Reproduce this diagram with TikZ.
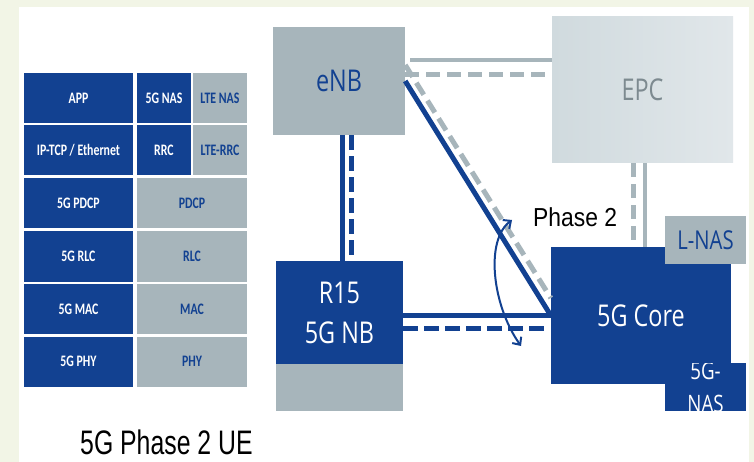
\documentclass[tikz,border=0pt]{standalone}
\usepackage{fontspec}
\setmainfont{Open Sans}
\newfontfamily\boxfont[FakeStretch=0.78]{Open Sans}
\newfontfamily\cellfont[FakeStretch=0.74]{Carlito}
\newfontfamily\captfont[FakeStretch=0.73]{Liberation Sans}
\newfontfamily\phasefont[FakeStretch=0.88]{Liberation Sans}
\usetikzlibrary{arrows.meta}
\definecolor{nkblue}{HTML}{124191}
\definecolor{nkgrey}{HTML}{A7B5BB}
\definecolor{epcleft}{HTML}{D0DADE}
\definecolor{epcright}{HTML}{E1E7EA}
\definecolor{epctext}{HTML}{7D8A90}
\definecolor{cream}{HTML}{F2F5E6}

\begin{document}
\begin{tikzpicture}[
    x=1pt, y=-1pt,
    cellB/.style={fill=nkblue, text=white, inner sep=0pt, minimum height=50pt,
                  font=\cellfont\bfseries\fontsize{16}{17}\selectfont},
    cellG/.style={fill=nkgrey, text=nkblue, inner sep=0pt, minimum height=50pt,
                  font=\cellfont\bfseries\fontsize{16}{17}\selectfont},
    boxB/.style={fill=nkblue, text=white, inner sep=0pt, align=center,
                 font=\boxfont\fontsize{30}{40}\selectfont},
    boxG/.style={fill=nkgrey, text=nkblue, inner sep=0pt, align=center,
                 font=\boxfont\fontsize{30}{40}\selectfont},
    epcbox/.style={left color=epcleft, right color=epcright, text=epctext,
                   inner sep=0pt, font=\boxfont\fontsize{30}{40}\selectfont},
    bline/.style={draw=nkblue, line width=5pt},
    bdash/.style={draw=nkblue, line width=5pt, dash pattern=on 15pt off 6pt},
    gline/.style={draw=nkgrey, line width=4pt},
    gdash/.style={draw=nkgrey, line width=5pt, dash pattern=on 14pt off 7pt},
    angarr/.style={draw=nkblue, line width=2pt,
                   {Straight Barb[length=6pt,width=11pt]}-{Straight Barb[length=6pt,width=11pt]}},
    phaselbl/.style={inner sep=0pt, text=black,
                     font=\phasefont\fontsize{26}{30}\selectfont},
    uelbl/.style={inner sep=0pt, text=black,
                  font=\captfont\fontsize{34}{40}\selectfont},
  ]

  %% ================================================================
  %% Frame
  %% ================================================================
  \useasboundingbox (0,0) rectangle (754,462);
  \fill[cream] (0,0) rectangle (754,462);
  \fill[white] (19,7) rectangle (749,462);

  %% ================================================================
  %% UE protocol stack (left)
  %% ================================================================
  \node[cellB, minimum width=109pt] (app)      at (78.5, 98)    {APP};
  \node[cellB, minimum width=54pt]  (nasfive)  at (164,  98)    {5G NAS};
  \node[cellG, minimum width=54pt]  (naslte)   at (220,  98)    {LTE NAS};

  \node[cellB, minimum width=109pt] (iptcp)    at (78.5, 150.5) {IP-TCP / Ethernet};
  \node[cellB, minimum width=54pt]  (rrcfive)  at (164,  150.5) {RRC};
  \node[cellG, minimum width=54pt]  (rrclte)   at (220,  150.5) {LTE-RRC};

  \node[cellB, minimum width=109pt] (pdcpfive) at (78.5, 203)   {5G PDCP};
  \node[cellG, minimum width=110pt] (pdcp)     at (192,  203)   {PDCP};

  \node[cellB, minimum width=109pt] (rlcfive)  at (78.5, 256.5) {5G RLC};
  \node[cellG, minimum width=110pt] (rlc)      at (192,  256.5) {RLC};

  \node[cellB, minimum width=109pt] (macfive)  at (78.5, 309)   {5G MAC};
  \node[cellG, minimum width=110pt] (mac)      at (192,  309)   {MAC};

  \node[cellB, minimum width=109pt] (phyfive)  at (78.5, 361.5) {5G PHY};
  \node[cellG, minimum width=110pt] (phy)      at (192,  361.5) {PHY};

  \node[uelbl, anchor=base west] (uecap) at (80, 454) {5G Phase 2 UE};

  %% ================================================================
  %% Network (right)
  %% ================================================================
  \node[boxG, minimum width=132pt, minimum height=108pt] (enb) at (339, 81) {eNB};
  \node[epcbox, minimum width=181pt, minimum height=146pt] (epc) at (642.5, 90) {EPC};

  \node[boxB, minimum width=127pt, minimum height=103pt] (gnb)     at (339.5, 312.5) {R15\\5G NB};
  \node[boxG, minimum width=127pt, minimum height=47pt]  (gnbbase) at (339.5, 387.5) {};

  \node[boxB, minimum width=180pt, minimum height=137pt] (core) at (641, 315.5) {5G Core};
  \node[boxG, minimum width=81pt, minimum height=48pt,
        font=\boxfont\fontsize{26}{30}\selectfont] (lnas) at (705.5, 240) {L-NAS};
  \node[boxB, minimum width=81pt, minimum height=48pt,
        path picture={\node[text=white, align=center,
                            font=\boxfont\fontsize{24}{33}\selectfont]
                        (gnastext) at (path picture bounding box.center) {5G-\\NAS};}]
        (gnas) at (705.5, 387) {};

  %% eNB -- R15 5G NB
  \coordinate (v1) at ([xshift=3pt]enb.south);
  \coordinate (v2) at ([xshift=12pt]enb.south);
  \draw[bline] (v1) -- (v1 |- gnb.north);
  \draw[bdash] (v2) -- (v2 |- gnb.north);

  %% R15 5G NB -- 5G Core
  \coordinate (h1) at ([yshift=-2.5pt]gnb.east);
  \coordinate (h2) at ([yshift=-15.5pt]gnb.east);
  \draw[bline] (h1) -- (h1 -| core.west);
  \draw[bdash] (h2) -- ([xshift=-6pt]h2 -| core.west);

  %% eNB -- 5G Core (diagonal)
  \draw[bline] (enb.east) -- (core.west);
  \draw[gdash] ([yshift=16pt]enb.east) -- ([yshift=17.5pt]core.west);

  %% eNB -- EPC
  \coordinate (e1) at ([xshift=5pt, yshift=21pt]enb.east);
  \coordinate (e2) at ([yshift=6pt]enb.east);
  \draw[gline] (e1) -- (e1 -| epc.west);
  \draw[gdash] (e2) -- (e2 -| epc.west);

  %% EPC -- 5G Core
  \coordinate (c1) at ([xshift=-9.5pt]epc.south);
  \coordinate (c2) at ([xshift=2.5pt]epc.south);
  \draw[gdash] (c1) -- (c1 |- core.north);
  \draw[gline] (c2) -- (c2 |- core.north);

  %% Phase 2 angle marker
  \coordinate (arcTop) at (512, 220);
  \coordinate (arcBot) at (521, 346);
  \draw[angarr] (arcTop) .. controls (485, 240) and (492, 305) .. (arcBot);
  \node[phaselbl, anchor=base west] (phase) at (533, 227) {Phase 2};

\end{tikzpicture}
\end{document}
